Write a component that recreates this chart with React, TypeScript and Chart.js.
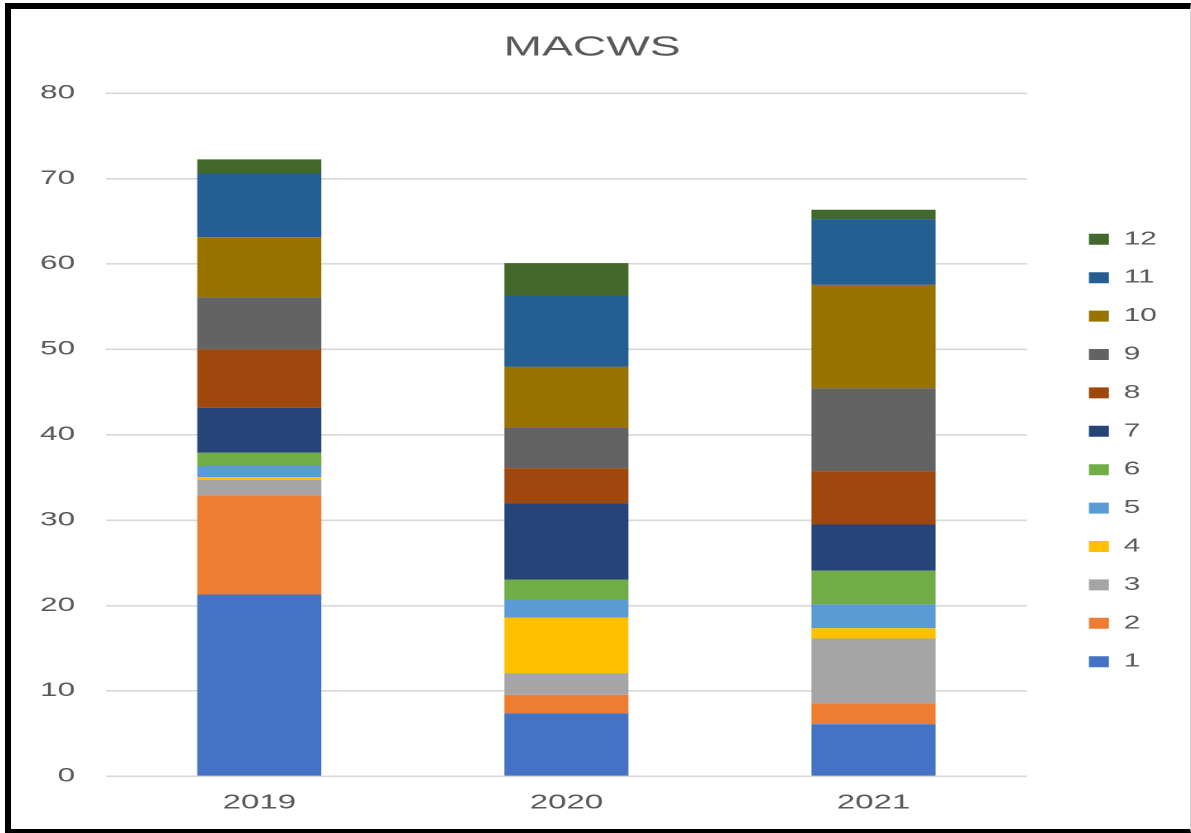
import React, { useEffect, useRef } from "react";
import { Chart, registerables } from "chart.js";

Chart.register(...registerables);

const categories = ["2019", "2020", "2021"];
const seriesLabels = ["1", "2", "3", "4", "5", "6", "7", "8", "9", "10", "11", "12"];
const values2019 = [21.3, 11.6, 1.8, 0.35, 1.3, 1.55, 5.25, 6.85, 6.1, 7.05, 7.45, 1.65];
const values2020 = [7.4, 2.15, 2.55, 6.5, 2.05, 2.4, 8.95, 4.1, 4.7, 7.15, 8.3, 3.85];
const values2021 = [6.1, 2.45, 7.6, 1.2, 2.8, 3.95, 5.4, 6.25, 9.7, 12.1, 7.7, 1.1];
const seriesColors = [
  "#4472C4", "#ED7D31", "#A5A5A5", "#FFC000", "#5B9BD5", "#70AD47",
  "#264478", "#9E480E", "#636363", "#997300", "#255E91", "#43682B",
];
const yTicks = [0, 10, 20, 30, 40, 50, 60, 70, 80];

const STRETCH = 1.65;
const CW = 715;
const CH = 820;
const FONT = "'Liberation Sans', Arial, sans-serif";
const TEXT = "#595959";

export default function App() {
  const ref = useRef<HTMLCanvasElement | null>(null);

  useEffect(() => {
    if (!ref.current) return;
    const datasets = seriesLabels.map((label, i) => ({
      label,
      data: [values2019[i], values2020[i], values2021[i]],
      backgroundColor: seriesColors[i],
      borderWidth: 0,
      stack: "s",
      barPercentage: 0.404,
      categoryPercentage: 1,
    }));
    const chart = new Chart(ref.current, {
      type: "bar",
      data: { labels: categories, datasets },
      options: {
        animation: false,
        responsive: false,
        devicePixelRatio: 2,
        layout: { padding: { left: 0, right: 10.6, top: 0, bottom: -1 } },
        plugins: {
          title: {
            display: true,
            text: "MACWS",
            color: TEXT,
            font: { family: FONT, size: 28, weight: "normal" },
            padding: { top: 22, bottom: 28.6 },
          },
          legend: {
            display: true,
            position: "right",
            reverse: true,
            title: {
              display: true,
              text: " ",
              font: { family: FONT, size: 10 },
              padding: { top: 50, bottom: 0 },
            },
            labels: {
              boxWidth: 12.1,
              boxHeight: 11,
              padding: 20.4,
              color: TEXT,
              font: { family: FONT, size: 18 },
            },
          },
          tooltip: { enabled: false },
        },
        scales: {
          x: {
            stacked: true,
            grid: { display: false, drawTicks: false },
            border: { display: false },
            ticks: { color: TEXT, font: { family: FONT, size: 20 }, padding: 14.8 },
          },
          y: {
            stacked: true,
            min: 0,
            max: 80,
            afterBuildTicks: (scale: any) => {
              scale.ticks = yTicks.map((v) => ({ value: v }));
            },
            afterFit: (scale: any) => {
              scale.width = 57.4;
            },
            grid: { color: "#D9D9D9", lineWidth: 1.6, drawTicks: false },
            border: { display: false },
            ticks: { color: TEXT, font: { family: FONT, size: 19 }, padding: 18.6 },
          },
          y2: {
            position: "right",
            display: true,
            grid: { display: false },
            border: { display: false },
            ticks: { display: false },
            afterFit: (scale: any) => {
              scale.width = 17.1;
            },
          },
        },
      },
    } as any);
    return () => chart.destroy();
  }, []);

  return (
    <div style={{ position: "fixed", left: 0, top: 0, width: 1191, height: 833, background: "#fff", overflow: "hidden" }}>
      <div
        style={{
          position: "absolute",
          left: 5,
          top: 3,
          width: 1186,
          height: 830,
          boxSizing: "border-box",
          borderLeft: "6px solid #000",
          borderTop: "6px solid #000",
          borderBottom: "4px solid #000",
          borderRight: "1px solid #D0D0D0",
          background: "#fff",
        }}
      >
        <div
          style={{
            position: "absolute",
            left: 0,
            top: 0,
            width: CW,
            height: CH,
            transform: `scaleX(${STRETCH})`,
            transformOrigin: "0 0",
          }}
        >
          <canvas ref={ref} width={CW} height={CH} style={{ width: CW, height: CH, display: "block" }} />
        </div>
      </div>
    </div>
  );
}
